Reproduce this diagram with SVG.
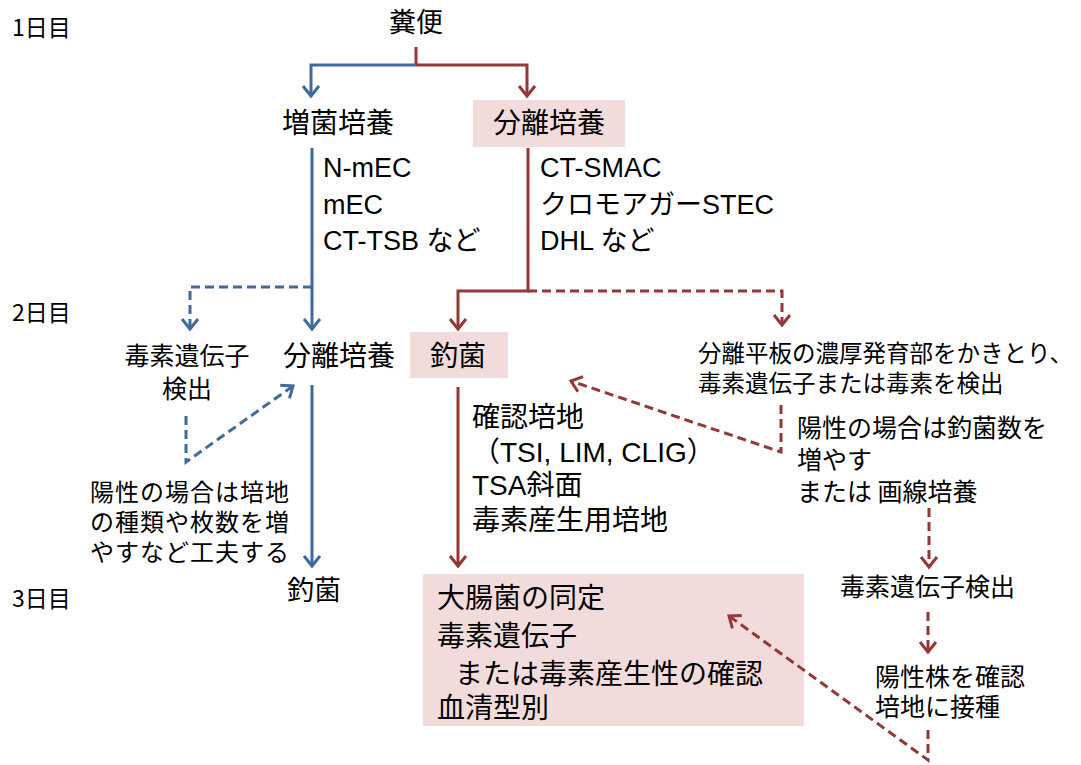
<svg xmlns="http://www.w3.org/2000/svg" width="1081" height="765" viewBox="0 0 1081 765">
<defs>
<style>
.t{font-family:"Noto Sans CJK JP","Liberation Sans",sans-serif;fill:#000}
.l{font-family:"Liberation Sans","Noto Sans CJK JP",sans-serif;fill:#000}
.f28{font-size:28px}
.f27{font-size:27px}
.f25{font-size:25px}
.f24{font-size:23.5px}
.n{font-size:24px;letter-spacing:1px}
.day{font-size:23px}
.box{fill:#F2DCDB}
.b{fill:none;stroke:#3F6A9C;stroke-width:3}
.r{fill:none;stroke:#953735;stroke-width:3}
.d{stroke-dasharray:9 5}
</style>
<marker id="ab" markerUnits="userSpaceOnUse" markerWidth="30" markerHeight="30" refX="0" refY="0" viewBox="-15 -15 30 30" orient="auto" overflow="visible">
<path d="M-10,-8 L0,0 L-10,8" fill="none" stroke="#3F6A9C" stroke-width="3" stroke-linejoin="miter"/>
</marker>
<marker id="ar" markerUnits="userSpaceOnUse" markerWidth="30" markerHeight="30" refX="0" refY="0" viewBox="-15 -15 30 30" orient="auto" overflow="visible">
<path d="M-10,-8 L0,0 L-10,8" fill="none" stroke="#953735" stroke-width="3" stroke-linejoin="miter"/>
</marker>
</defs>
<rect width="1081" height="765" fill="#fff"/>

<g id="days">
<text class="t day" x="12" y="36">1日目</text>
<text class="t day" x="12" y="321">2日目</text>
<text class="t day" x="12" y="607">3日目</text>
</g>

<g id="n-stool"><text class="t f27" x="416" y="32" text-anchor="middle">糞便</text></g>
<g id="n-enrich"><text class="t f28" x="282" y="133">増菌培養</text></g>
<g id="n-isolate1"><rect class="box" x="473" y="100" width="152" height="47"/><text class="t f28" x="493" y="133">分離培養</text></g>
<g id="n-enrich-media">
<text class="l f27" x="323" y="177">N-mEC</text>
<text class="l f27" x="323" y="214">mEC</text>
<text class="l f27" x="323" y="250">CT-TSB など</text>
</g>
<g id="n-isolate-media">
<text class="l f27" x="540" y="177">CT-SMAC</text>
<text class="l f27" x="540" y="214">クロモアガーSTEC</text>
<text class="l f27" x="540" y="250">DHL など</text>
</g>
<g id="n-toxgene1">
<text class="t f25" x="187" y="365" text-anchor="middle">毒素遺伝子</text>
<text class="t f25" x="187" y="398" text-anchor="middle">検出</text>
</g>
<g id="n-isolate2"><text class="t f28" x="283" y="366">分離培養</text></g>
<g id="n-pick1"><rect class="box" x="410" y="332" width="98" height="46"/><text class="t f28" x="458" y="366" text-anchor="middle">釣菌</text></g>
<g id="n-scrape">
<text class="t f24" x="698" y="362">分離平板の濃厚発育部をかきとり、</text>
<text class="t f24" x="698" y="392">毒素遺伝子または毒素を検出</text>
</g>
<g id="n-confirm-media">
<text class="t f28" x="472" y="427">確認培地</text>
<text class="t f28" x="472" y="462">（<tspan class="l">TSI, LIM, CLIG</tspan>）</text>
<text class="t f28" x="472" y="495"><tspan class="l">TSA</tspan>斜面</text>
<text class="t f28" x="472" y="530">毒素産生用培地</text>
</g>
<g id="n-positive-right">
<text class="t f25" x="797" y="437">陽性の場合は釣菌数を</text>
<text class="t f25" x="797" y="469">増やす</text>
<text class="t f25" x="797" y="501">または 画線培養</text>
</g>
<g id="n-positive-left">
<text class="t n" x="90" y="501">陽性の場合は培地</text>
<text class="t n" x="90" y="531">の種類や枚数を増</text>
<text class="t n" x="90" y="561">やすなど工夫する</text>
</g>
<g id="n-pick2"><text class="t f27" x="287" y="600">釣菌</text></g>
<g id="n-identify">
<rect class="box" x="423" y="574" width="381" height="152"/>
<text class="t f28" x="437" y="608">大腸菌の同定</text>
<text class="t f28" x="437" y="646">毒素遺伝子</text>
<text class="t f28" x="455" y="684">または毒素産生性の確認</text>
<text class="t f28" x="437" y="718">血清型別</text>
</g>
<g id="n-toxgene2"><text class="t f25" x="840" y="596">毒素遺伝子検出</text></g>
<g id="n-inoculate">
<text class="t f25" x="875" y="686">陽性株を確認</text>
<text class="t f25" x="875" y="716">培地に接種</text>
</g>

<g id="connectors">
<path class="r" d="M416 47 V65"/>
<path class="b" d="M416 65 H311 V96" marker-end="url(#ab)"/>
<path class="r" d="M416 65 H527 V96" marker-end="url(#ar)"/>
<path class="b" d="M312 148 V329" marker-end="url(#ab)"/>
<path class="b d" d="M312 287 H190 V329" marker-end="url(#ab)"/>
<path class="r" d="M528 148 V291 H458 V329" marker-end="url(#ar)"/>
<path class="r d" d="M528 291 H782 V325" marker-end="url(#ar)"/>
<path class="b" d="M312 385 V566" marker-end="url(#ab)"/>
<path class="b d" d="M186 416 V462 L293 386" marker-end="url(#ab)"/>
<path class="r" d="M458 387 V566" marker-end="url(#ar)"/>
<path class="r d" d="M781 405 V452 L571 381" marker-end="url(#ar)"/>
<path class="r d" d="M929 508 V567" marker-end="url(#ar)"/>
<path class="r d" d="M928 612 V652" marker-end="url(#ar)"/>
<path class="r d" d="M928 730 V760 L729 616" marker-end="url(#ar)"/>
</g>
</svg>
